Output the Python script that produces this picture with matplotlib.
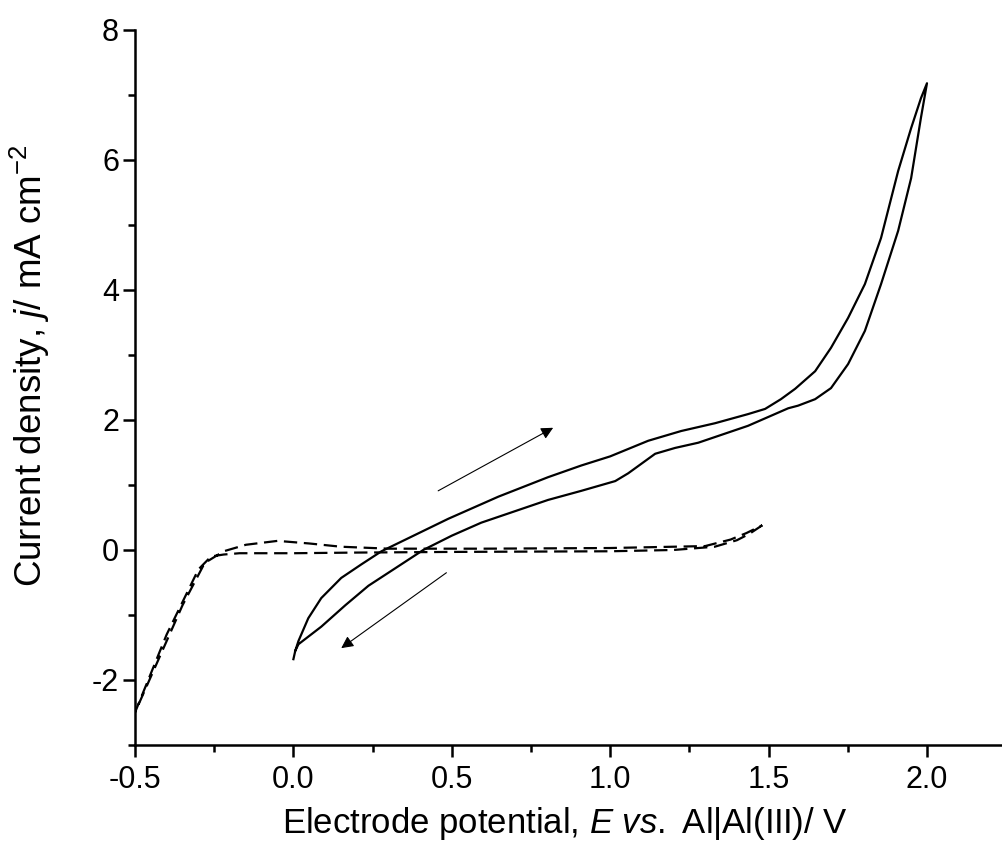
import matplotlib
matplotlib.use('Agg')
import matplotlib.pyplot as plt
import numpy as np

plt.rcParams['font.family'] = ['Liberation Sans', 'DejaVu Sans']
plt.rcParams['mathtext.fontset'] = 'custom'
plt.rcParams['mathtext.rm'] = 'Liberation Sans'
plt.rcParams['mathtext.it'] = 'Liberation Sans:italic'
plt.rcParams['axes.unicode_minus'] = False

# Barrido en linea continua (0 -> 2.0 V -> 0)
cv_x = [0.0, 0.006, 0.016, 0.047, 0.088, 0.151, 0.215, 0.278, 0.489, 0.647,
        0.804, 0.909, 1.0, 1.12, 1.224, 1.331, 1.435, 1.489, 1.539, 1.584,
        1.647, 1.697, 1.751, 1.804, 1.855, 1.909, 1.950, 1.981, 2.0,
        1.981, 1.950, 1.909, 1.855, 1.804, 1.751, 1.697, 1.647, 1.593, 1.562,
        1.435, 1.278, 1.205, 1.142, 1.057, 1.016, 0.909, 0.804, 0.593, 0.50,
        0.41, 0.322, 0.237, 0.164, 0.088, 0.016, 0.006]
cv_y = [-1.68, -1.55, -1.40, -1.05, -0.74, -0.43, -0.22, -0.02, 0.48, 0.82,
        1.12, 1.30, 1.44, 1.68, 1.83, 1.95, 2.09, 2.17, 2.32, 2.48,
        2.75, 3.11, 3.57, 4.09, 4.80, 5.83, 6.49, 6.95, 7.18,
        6.65, 5.72, 4.91, 4.09, 3.37, 2.86, 2.49, 2.32, 2.22, 2.18,
        1.91, 1.65, 1.57, 1.48, 1.18, 1.06, 0.91, 0.77, 0.42, 0.22,
        0.0, -0.28, -0.55, -0.85, -1.18, -1.45, -1.55]

# Barrido en linea discontinua (1.48 -> -0.5 -> 1.48 V)
dash_x = [1.48, 1.44, 1.40, 1.33, 1.20, 1.00, 0.50, 0.20, 0.00, -0.17, -0.22,
          -0.26, -0.30, -0.40, -0.50, -0.45, -0.35, -0.28, -0.22, -0.15, -0.05,
          0.05, 0.15, 0.30, 0.60, 1.00, 1.30, 1.38, 1.43, 1.48]
dash_y = [0.38, 0.25, 0.15, 0.05, 0.00, -0.02, -0.03, -0.04, -0.05, -0.05, -0.07,
          -0.10, -0.30, -1.30, -2.50, -1.95, -0.85, -0.20, -0.02, 0.08, 0.14,
          0.10, 0.05, 0.02, 0.02, 0.03, 0.06, 0.16, 0.26, 0.38]

# Flechas de sentido de barrido: (inicio, fin)
arrow_fwd = ((0.457, 0.91), (0.82, 1.88))
arrow_rev = ((0.483, -0.35), (0.151, -1.51))

fig = plt.figure(figsize=(10.03, 8.56), dpi=100)
ax = fig.add_axes([0.1346, 0.1297, 0.8654, 0.8353])

ax.plot(cv_x, cv_y, 'k-', lw=1.6)
ax.plot(dash_x, dash_y, color='k', lw=1.6, dashes=(6, 3))

for (x0, y0), (x1, y1) in (arrow_fwd, arrow_rev):
    ax.annotate('', xy=(x1, y1), xytext=(x0, y0),
                arrowprops=dict(arrowstyle='-|>', color='k', lw=0.8,
                                mutation_scale=18, shrinkA=0, shrinkB=0))

ax.set_xlim(-0.5, 2.24)
ax.set_ylim(-3, 8)
ax.set_xticks(np.arange(-0.5, 2.01, 0.5))
ax.set_xticks(np.arange(-0.25, 2.24, 0.5), minor=True)
ax.set_yticks(np.arange(-2, 8.1, 2))
ax.set_yticks(np.arange(-3, 8, 2), minor=True)
ax.xaxis.set_major_formatter(matplotlib.ticker.FormatStrFormatter('%.1f'))

for side in ('top', 'right'):
    ax.spines[side].set_visible(False)
for side in ('left', 'bottom'):
    ax.spines[side].set_linewidth(1.8)
ax.tick_params(which='major', length=8.5, width=1.8, direction='out', labelsize=22)
ax.tick_params(which='minor', length=5, width=1.8, direction='out')
ax.tick_params(axis='x', pad=6)
ax.tick_params(axis='y', pad=3)

ax.set_xlabel('Electrode potential, $E$ $vs.$ Al|Al(III)/ V', fontsize=25)
ax.xaxis.set_label_coords(0.495, -0.084)
ax.set_ylabel('Current density, $j$/ mA cm$^{-2}$', fontsize=26.5)
ax.yaxis.set_label_coords(-0.0956, 0.531)

plt.savefig('out.png', dpi=100)
plt.close(fig)
